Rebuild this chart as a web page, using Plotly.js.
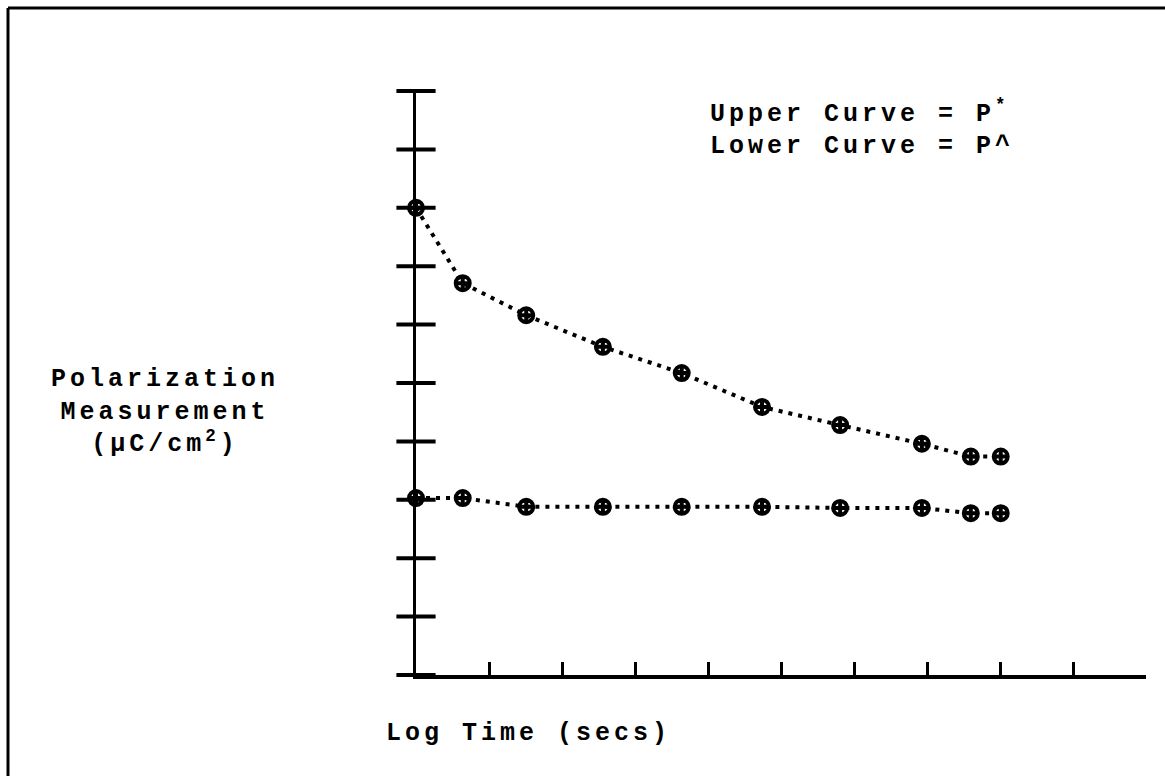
<!DOCTYPE html>
<html>
<head>
<meta charset="utf-8">
<script src="https://cdn.plot.ly/plotly-3.0.1.min.js"></script>
<style>
html,body{margin:0;padding:0;background:#fff;}
#chart{width:1165px;height:776px;}
#chart .annotation-text{letter-spacing:4px;}
</style>
</head>
<body>
<div id="chart"></div>
<script>
// Log time positions (axis units) of the measured points
const logTime = [0, 0.64, 1.51, 2.56, 3.64, 4.74, 5.81, 6.93, 7.60, 8.01];
// Upper curve P*
const upperP = [8.0, 6.71, 6.16, 5.62, 5.17, 4.59, 4.28, 3.96, 3.74, 3.74];
// Lower curve P^
const lowerP = [3.03, 3.03, 2.88, 2.88, 2.88, 2.88, 2.86, 2.86, 2.77, 2.77];
// Axis tick positions
const xTicks = [0,1,2,3,4,5,6,7,8,9,10];
const yTicks = [0,1,2,3,4,5,6,7,8,9,10];
const yTickX = yTicks.map(() => 0);

const FONT = "Liberation Mono, DejaVu Sans Mono, monospace";

const markerStyle = {symbol: 'circle-cross-open', size: 14, color: '#000', line: {width: 4, color: '#000'}};
const lineStyle = {color: '#000', width: 4, dash: '4px,6px'};

const traces = [
  {x: logTime, y: upperP, mode: 'lines+markers', line: lineStyle, marker: markerStyle, cliponaxis: false, hoverinfo: 'skip'},
  {x: logTime, y: lowerP, mode: 'lines+markers', line: lineStyle, marker: markerStyle, cliponaxis: false, hoverinfo: 'skip'},
  {x: yTickX, y: yTicks, mode: 'markers', marker: {symbol: 'line-ew', size: 28, color: '#000', line: {width: 4, color: '#000'}}, cliponaxis: false, hoverinfo: 'skip'}
];

// plot area in pixels: x 416..1146, y 91..675
const L = 416, R = 19, T = 91, B = 101, W = 730, H = 584;
const px = v => (v - L) / W;
const py = v => (675 - v) / H;

const ann = (text, x, y, xa, align) => ({text: text, xref: 'paper', yref: 'paper', x: px(x), y: py(y), xanchor: xa || 'center', yanchor: 'middle', align: align || 'center', showarrow: false, font: {family: FONT, size: 25, color: '#000', weight: 'bold'}});

const layout = {
  width: 1165, height: 776,
  margin: {l: L, r: R, t: T, b: B},
  paper_bgcolor: '#fff', plot_bgcolor: '#fff',
  showlegend: false,
  xaxis: {range: [0, 10], tickvals: xTicks, showticklabels: false, ticks: 'inside', ticklen: 13, tickwidth: 3, tickcolor: '#000', showline: true, linewidth: 4, linecolor: '#000', showgrid: false, zeroline: false, fixedrange: true},
  yaxis: {range: [0, 10], tickvals: yTicks, showticklabels: false, ticks: '', showline: true, linewidth: 3, linecolor: '#000', showgrid: false, zeroline: false, fixedrange: true},
  annotations: [
    ann('Polarization<br>Measurement<br>(\u03bcC/cm<sup>2</sup>)', 165, 412),
    ann('Upper Curve = P<sup>*</sup><br>Lower Curve = P^', 708, 128, 'left', 'left'),
    ann('Log Time (secs)', 528, 733)
  ],
  shapes: [
    {type: 'line', xref: 'paper', yref: 'paper', x0: px(8), x1: px(8), y0: py(8), y1: py(776), line: {color: '#000', width: 3}},
    {type: 'line', xref: 'paper', yref: 'paper', x0: px(8), x1: px(1165), y0: py(8), y1: py(8), line: {color: '#000', width: 3}}
  ]
};

Plotly.newPlot('chart', traces, layout, {staticPlot: true, displayModeBar: false});
</script>
</body>
</html>
